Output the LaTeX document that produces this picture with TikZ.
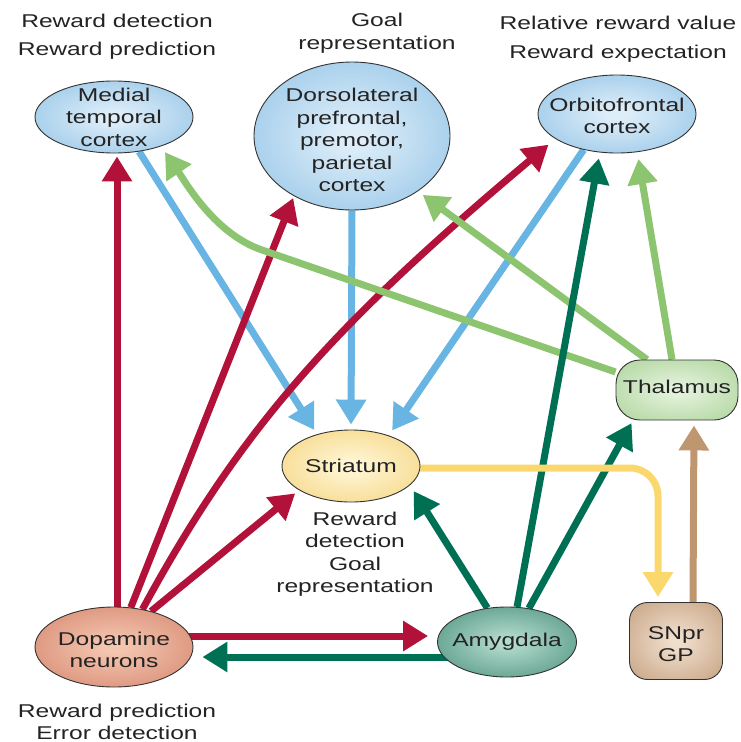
\documentclass[tikz,border=0pt]{standalone}
\usepackage{fontspec}
\setmainfont{Liberation Sans}[FakeStretch=1.33]
\usetikzlibrary{arrows.meta,shapes.geometric}
\definecolor{cred}{RGB}{178,18,58}
\definecolor{cblue}{RGB}{104,180,226}
\definecolor{cgreen}{RGB}{140,196,112}
\definecolor{cteal}{RGB}{0,112,84}
\definecolor{cyellow}{RGB}{250,216,110}
\definecolor{cbrown}{RGB}{190,150,112}
\definecolor{txtc}{RGB}{35,35,35}
\definecolor{blin}{RGB}{222,238,249}
\definecolor{blout}{RGB}{112,176,222}
\definecolor{yein}{RGB}{255,246,212}
\definecolor{yeout}{RGB}{240,196,90}
\definecolor{grin}{RGB}{228,242,220}
\definecolor{grout}{RGB}{150,200,128}
\definecolor{brin}{RGB}{240,222,204}
\definecolor{brout}{RGB}{180,138,100}
\definecolor{tein}{RGB}{178,218,205}
\definecolor{teout}{RGB}{30,112,88}
\definecolor{rdin}{RGB}{244,198,176}
\definecolor{rdout}{RGB}{200,104,80}
\definecolor{shin}{RGB}{255,255,255}
\definecolor{shout}{RGB}{0,0,0}
\pgfdeclareradialshading[shin,shout]{softrad}{\pgfpointorigin}{color(0bp)=(shin); color(3bp)=(shin); color(50bp)=(shout); color(100bp)=(shout)}
\pgfdeclarelayer{bg}
\pgfsetlayers{bg,main}
\begin{document}
\begin{tikzpicture}[x=1pt,y=-1pt,
  txt/.style={font=\fontsize{18.5}{22.5}\selectfont, text=txtc, align=center, inner sep=0pt},
  region/.style={draw=black!80, line width=0.9pt, inner sep=0pt, shade, shading=softrad},
  ell/.style={region, ellipse},
  rbox/.style={region, rectangle},
  grad/.style 2 args={/utils/exec={\colorlet{shin}{#1}\colorlet{shout}{#2}}},
  conn/.style={line width=7pt, -{Triangle[width=29pt,length=25pt]}},
]
\useasboundingbox (0,0) rectangle (741,742);

% free labels
\node[txt, font=\fontsize{18.5}{28}\selectfont] (labmtc) at (117,37) {Reward detection\\Reward prediction};
\node[txt, font=\fontsize{18.5}{23}\selectfont] (labdl) at (377,33) {Goal\\representation};
\node[txt, font=\fontsize{18.5}{29}\selectfont] (labofc) at (618,39) {Relative reward value\\Reward expectation};
\node[txt] (labstr) at (355,554) {Reward\\detection\\Goal\\representation};
\node[txt, font=\fontsize{18.5}{21.5}\selectfont] (labdop) at (117,722) {Reward prediction\\Error detection};

% regions
\node[ell, grad={blin}{blout}, minimum width=158pt, minimum height=72pt,
  label={[txt]center:{Medial\\temporal\\cortex}}] (mtc) at (114,117) {};
\node[ell, grad={blin}{blout}, minimum width=196pt, minimum height=148pt,
  label={[txt,yshift=-4pt]center:{Dorsolateral\\prefrontal,\\premotor,\\parietal\\cortex}}] (dlpfc) at (352,136) {};
\node[ell, grad={blin}{blout}, minimum width=158pt, minimum height=78pt,
  label={[txt,yshift=-2pt]center:{Orbitofrontal\\cortex}}] (ofc) at (617,114) {};
\node[ell, grad={yein}{yeout}, minimum width=138pt, minimum height=72pt,
  label={[txt]center:{Striatum}}] (str) at (351,466) {};
\node[rbox, rounded corners=24pt, grad={grin}{grout}, minimum width=122pt, minimum height=60pt,
  label={[txt,yshift=3pt]center:{Thalamus}}] (thal) at (677,390) {};
\node[rbox, rounded corners=18pt, grad={brin}{brout}, minimum width=93pt, minimum height=77pt,
  label={[txt,yshift=-3pt]center:{SNpr\\GP}}] (snpr) at (676,641) {};
\node[ell, grad={tein}{teout}, minimum width=139pt, minimum height=70pt,
  label={[txt]center:{Amygdala}}] (amy) at (507,642) {};
\node[ell, grad={rdin}{rdout}, minimum width=158pt, minimum height=80pt,
  label={[txt,yshift=-3pt]center:{Dopamine\\neurons}}] (dop) at (114,647) {};

\coordinate (gbend) at (262,250);

\begin{pgfonlayer}{bg}
% blue: cortex -> striatum
\draw[conn, cblue, shorten >=5pt] (mtc.306) -- (str.137);
\draw[conn, cblue, shorten >=5pt] (dlpfc.south) -- (str.north);
\draw[conn, cblue, shorten >=6pt] (ofc.227) -- (str.39);
% red: dopamine
\draw[conn, cred, shorten >=3pt] ([xshift=3pt]dop.north) -- ([xshift=3pt]mtc.south);
\draw[conn, cred, shorten >=2pt] (dop.67) -- (dlpfc.226);
\draw[conn, cred, shorten >=9pt] (dop.53) .. controls (240,430) and (330,328) .. (ofc.202);
\draw[conn, cred, shorten >=5pt] (dop.44) -- (str.205);
\draw[conn, cred, shorten >=9pt] ([yshift=11pt]dop.center) -- ([yshift=6pt]amy.west);
% light green: thalamus
\draw[conn, cgreen, shorten >=7pt] ([yshift=18pt]thal.west) -- (gbend) .. controls (215,234) and (186,183) .. (mtc.328);
\draw[conn, cgreen, shorten >=6pt] ([xshift=-30pt]thal.north) -- (dlpfc.320);
\draw[conn, cgreen, shorten >=7pt] ([xshift=-5pt]thal.north) -- (ofc.298);
% teal: amygdala
\draw[conn, cteal, shorten >=9pt] ([yshift=-15pt]amy.center) -- ([yshift=-10pt]dop.east);
\draw[conn, cteal, shorten >=7pt] (amy.120) -- (str.342);
\draw[conn, cteal, shorten >=6pt] (amy.74) -- (ofc.246);
\draw[conn, cteal, shorten >=3pt] (amy.57) -- ([xshift=-44pt]thal.south);
% yellow and brown
\draw[conn, cyellow, rounded corners=28pt, shorten >=5pt] ([yshift=-2pt]str.east) -| ([xshift=-18pt]snpr.north);
\draw[conn, cbrown, shorten >=5pt] ([xshift=17pt]snpr.north) -- ([xshift=17pt]thal.south);
\end{pgfonlayer}
\end{tikzpicture}
\end{document}
